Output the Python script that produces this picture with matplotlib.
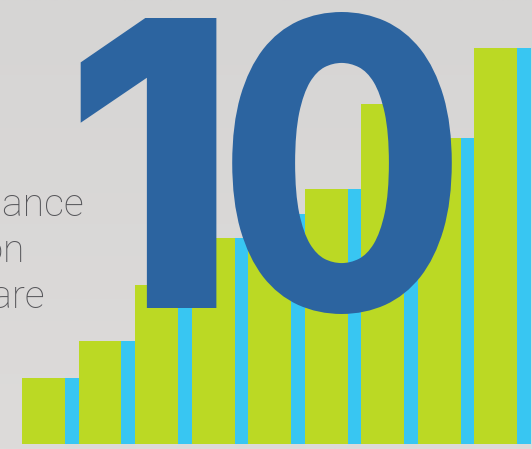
import numpy as np
import matplotlib
matplotlib.use("Agg")
import matplotlib.pyplot as plt
import matplotlib.patheffects as pe
from matplotlib.textpath import TextPath
from matplotlib.font_manager import FontProperties

# ---- data ----
groups = list(range(9))
green_vals = [65.5, 102.5, 158.5, 205.5, 230, 254.5, 339.5, 305.5, 395.5]
blue_vals = [65.5, 102.5, 158.5, 205.5, 230, 254.5, 339.5, 305.5, 395.5]
big_number = ["1", "0"]
side_lines = ["Enhance", "Application", "Software"]

W, H, DPI = 532, 449, 100
fig = plt.figure(figsize=(W / DPI, H / DPI), dpi=DPI)

# background gradient
bg = fig.add_axes([0, 0, 1, 1])
grad = np.linspace(0, 1, 256).reshape(-1, 1)
top = np.array([214, 213, 212]) / 255
bot = np.array([221, 219, 218]) / 255
img = top[None, None, :] * (1 - grad[:, :, None]) + bot[None, None, :] * grad[:, :, None]
bg.imshow(img, aspect="auto", extent=[0, 1, 0, 1])
bg.set_axis_off()

GREEN = "#bbd924"
BLUE = "#38c6f2"
DARK = "#2c64a0"

ax = fig.add_axes([0, 0, 1, 1])
ax.patch.set_alpha(0)
gw = 43 / 56.5
bw = 1 - gw
x = np.array(groups, dtype=float)
ax.bar(x, green_vals, width=gw, align="edge", color=GREEN, linewidth=0)
ax.bar(x + gw, blue_vals, width=bw, align="edge", color=BLUE, linewidth=0)
ax.set_xlim(-22 / 56.5, (W - 22) / 56.5)
ax.set_ylim(-5.5, H - 5.5)
ax.set_axis_off()


def ink(s, prop):
    tp = TextPath((0, 0), s, size=1, prop=prop)
    e = tp.get_extents()
    return e.x0, e.x1, e.y0, e.y1


def place(s, prop, xref, top_px, bottom_px, color, center=False, effects=None):
    x0, x1, y0, y1 = ink(s, prop)
    size_px = (bottom_px - top_px) / (y1 - y0)
    if center:
        ox = xref - (x0 + x1) / 2 * size_px
    else:
        ox = xref - x0 * size_px
    oy = (H - bottom_px) - y0 * size_px
    t = fig.text(ox / W, oy / H, s, fontproperties=prop, fontsize=size_px * 72 / DPI,
                 color=color, ha="left", va="baseline")
    if effects:
        t.set_path_effects(effects)
    return t


# big "10"
place(big_number[0], FontProperties(family="Inter", weight=800), 80, 18, 308, DARK)
place(big_number[1], FontProperties(family="Lato", weight="black"), 342, 15, 311, DARK,
      center=True,
      effects=[pe.withStroke(linewidth=6 * 72 / DPI, foreground=DARK)])

# side text
fp2 = FontProperties(family="Roboto", weight="light")
_, _, _, xh = ink("x", fp2)
s2_px = 20.7 / xh
s2_pt = s2_px * 72 / DPI
ends = [83, 22, 43]
bases = [216, 262, 308]
for line, e, b in zip(side_lines, ends, bases):
    lx0, lx1, _, _ = ink(line, fp2)
    ox2 = e - lx1 * s2_px
    fig.text(ox2 / W, (H - b) / H, line, fontproperties=fp2, fontsize=s2_pt,
             color="#56565a", ha="left", va="baseline")

fig.savefig("out.png", dpi=DPI)
